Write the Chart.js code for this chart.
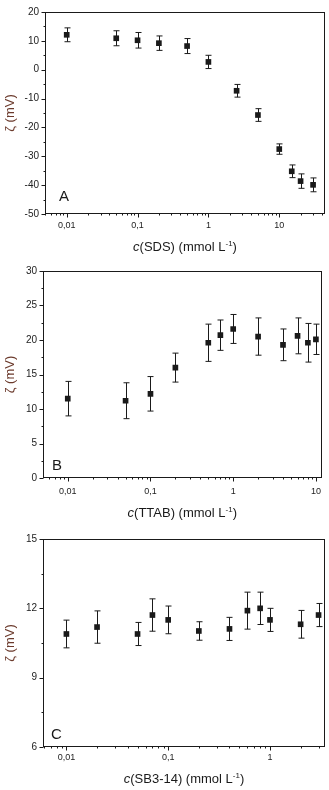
<!DOCTYPE html>
<html>
<head>
<meta charset="utf-8">
<script src="https://cdn.jsdelivr.net/npm/chart.js@4.4.1/dist/chart.umd.min.js"></script>
<style>
    body { margin: 0; background: #fff; width: 329px; height: 790px; position: relative; overflow: hidden; }
    .panel { position: absolute; left: 0; width: 329px; }
</style>
</head>
<body>
<div class="panel" style="top:0;height:256px"><canvas id="chartA"></canvas></div>
<div class="panel" style="top:258px;height:262px"><canvas id="chartB"></canvas></div>
<div class="panel" style="top:522px;height:268px"><canvas id="chartC"></canvas></div>
<script>
// panel A - SDS
const concA = [0.01, 0.05, 0.1, 0.2, 0.5, 1, 2.5, 5, 10, 15, 20, 30];
const zetaA = [12.1, 10.9, 10.2, 9.2, 8.2, 2.7, -7.3, -15.7, -27.5, -35.2, -38.6, -39.9];
const errA = [2.4, 2.6, 2.7, 2.5, 2.6, 2.3, 2.2, 2.2, 1.8, 2.2, 2.5, 2.4];
const yLabelsA = [-50, -40, -30, -20, -10, 0, 10, 20];

// panel B - TTAB
const concB = [0.01, 0.05, 0.1, 0.2, 0.5, 0.7, 1, 2, 4, 6, 8, 10];
const zetaB = [11.5, 11.2, 12.2, 16.0, 19.6, 20.7, 21.6, 20.5, 19.3, 20.6, 19.6, 20.1];
const errB = [2.5, 2.6, 2.5, 2.1, 2.7, 2.2, 2.1, 2.7, 2.3, 2.6, 2.8, 2.2];
const yLabelsB = [0, 5, 10, 15, 20, 25, 30];

// panel C - SB3-14
const concC = [0.01, 0.02, 0.05, 0.07, 0.1, 0.2, 0.4, 0.6, 0.8, 1, 2, 3];
const zetaC = [10.89, 11.19, 10.89, 11.71, 11.5, 11.02, 11.11, 11.9, 12.0, 11.5, 11.31, 11.71];
const errC = [0.6, 0.7, 0.5, 0.7, 0.6, 0.4, 0.5, 0.8, 0.7, 0.5, 0.6, 0.5];
const yLabelsC = [6, 9, 12, 15];

// x tick labels (decimal comma, as in the original)
const xTickValues = [0.01, 0.1, 1, 10];
const xTickLabels = ['0,01', '0,1', '1', '10'];

const INK = '#1a1a1a';

function near(a, b) { return Math.abs(a - b) < 1e-9 * Math.max(1, Math.abs(b)); }

// error bars, ticks, frame, panel letter and x title
const decorPlugin = {
    id: 'decor',
    beforeDatasetsDraw(chart) {
        const { ctx, scales: { x, y } } = chart;
        const d = chart.options.plugins.decor;
        ctx.save();
        ctx.strokeStyle = INK;
        ctx.lineWidth = 1;
        d.conc.forEach((c, i) => {
            const px = Math.round(x.getPixelForValue(c)) + 0.5;
            const top = y.getPixelForValue(d.zeta[i] + d.err[i]);
            const bot = y.getPixelForValue(d.zeta[i] - d.err[i]);
            ctx.beginPath();
            ctx.moveTo(px, top); ctx.lineTo(px, bot);
            ctx.moveTo(px - 3, top); ctx.lineTo(px + 3, top);
            ctx.moveTo(px - 3, bot); ctx.lineTo(px + 3, bot);
            ctx.stroke();
        });
        ctx.restore();
    },
    afterDraw(chart) {
        const { ctx, chartArea: a, scales: { x, y } } = chart;
        const d = chart.options.plugins.decor;
        ctx.save();
        ctx.strokeStyle = INK;
        ctx.lineWidth = 1;
        const L = Math.round(a.left) + 0.5, R = Math.round(a.right) - 0.5;
        const T = Math.round(a.top) + 0.5, B = Math.round(a.bottom) - 0.5;
        ctx.strokeRect(L, T, R - L, B - T);

        ctx.beginPath();
        x.ticks.forEach(t => {
            const px = Math.round(x.getPixelForValue(t.value)) + 0.5;
            ctx.moveTo(px, B); ctx.lineTo(px, B + (t.major ? 4 : 2));
        });
        y.ticks.forEach(t => {
            const py = Math.round(y.getPixelForValue(t.value)) + 0.5;
            const major = d.yLabels.some(v => near(v, t.value));
            ctx.moveTo(L, py); ctx.lineTo(L - (major ? 4 : 2), py);
        });
        ctx.stroke();

        // panel letter
        ctx.fillStyle = INK;
        ctx.font = '15px "Liberation Sans", Arial, sans-serif';
        ctx.textBaseline = 'alphabetic';
        ctx.textAlign = 'left';
        ctx.fillText(d.letter, a.left + d.letterDx, a.bottom - d.letterDy);

        // x title: italic c, superscript -1
        const parts = [
            { t: 'c', f: 'italic 13px "Liberation Sans", Arial, sans-serif', dy: 0 },
            { t: '(' + d.name + ') (mmol L', f: '13px "Liberation Sans", Arial, sans-serif', dy: 0 },
            { t: '-1', f: '8px "Liberation Sans", Arial, sans-serif', dy: -5 },
            { t: ')', f: '13px "Liberation Sans", Arial, sans-serif', dy: 0 }
        ];
        let w = 0;
        parts.forEach(p => { ctx.font = p.f; p.w = ctx.measureText(p.t).width; w += p.w; });
        let cx = (a.left + a.right) / 2 - w / 2;
        const base = a.bottom + d.titleDy + 4.5;
        parts.forEach(p => {
            ctx.font = p.f;
            ctx.fillText(p.t, cx, base + p.dy);
            cx += p.w;
        });
        ctx.restore();
    }
};

function logTicks(scale) {
    const ticks = [];
    for (let e = Math.floor(Math.log10(scale.min)); Math.pow(10, e) <= scale.max; e++) {
        for (let m = 1; m <= 9; m++) {
            const v = +(m * Math.pow(10, e)).toPrecision(8);
            if (v >= scale.min && v <= scale.max) ticks.push({ value: v, major: m === 1 });
        }
    }
    scale.ticks = ticks;
}

function makeChart(id, conc, zeta, err, o) {
    new Chart(document.getElementById(id), {
        type: 'scatter',
        data: {
            datasets: [{
                data: conc.map((c, i) => ({ x: c, y: zeta[i] })),
                backgroundColor: INK,
                borderColor: INK,
                borderWidth: 0,
                pointStyle: 'rect',
                pointRadius: 4,
                pointHoverRadius: 4
            }]
        },
        options: {
            responsive: true,
            maintainAspectRatio: false,
            animation: false,
            events: [],
            layout: { padding: { top: o.padTop, right: 4, left: 0, bottom: 0 } },
            plugins: {
                legend: { display: false },
                tooltip: { enabled: false },
                decor: { conc, zeta, err, yLabels: o.yLabels, letter: o.letter, name: o.name,
                         letterDx: o.letterDx, letterDy: o.letterDy, titleDy: o.titleDy }
            },
            scales: {
                x: {
                    type: 'logarithmic',
                    min: o.xMin, max: o.xMax,
                    bounds: 'data',
                    grid: { display: false, drawTicks: false },
                    border: { display: false },
                    afterBuildTicks: logTicks,
                    afterFit(s) { s.height = o.xHeight; },
                    ticks: {
                        autoSkip: false, maxRotation: 0, minRotation: 0,
                        padding: o.xPad,
                        color: '#222',
                        font: { family: '"Liberation Sans", Arial, sans-serif', size: 9 },
                        callback(v) {
                            const k = xTickValues.findIndex(t => near(t, v));
                            return k >= 0 ? xTickLabels[k] : '';
                        }
                    }
                },
                y: {
                    min: o.yMin, max: o.yMax,
                    grid: { display: false, drawTicks: false },
                    border: { display: false },
                    afterBuildTicks(s) {
                        const t = [];
                        for (let i = 0; o.yMin + i * o.yStep <= o.yMax + 1e-9; i++) t.push({ value: o.yMin + i * o.yStep });
                        s.ticks = t;
                    },
                    afterFit(s) { s.width = o.yWidth; },
                    title: {
                        display: true, text: 'ζ (mV)', color: '#6b3a2c',
                        font: { family: '"Liberation Sans", Arial, sans-serif', size: 13 },
                        padding: { top: 3, bottom: 0 }
                    },
                    ticks: {
                        autoSkip: false,
                        padding: 6,
                        color: '#222',
                        font: { family: '"Liberation Sans", Arial, sans-serif', size: 10 },
                        callback(v) { return o.yLabels.some(l => near(l, v)) ? String(v) : ''; }
                    }
                }
            }
        },
        plugins: [decorPlugin]
    });
}

makeChart('chartA', concA, zetaA, errA, {
    name: 'SDS', letter: 'A', xMin: 0.00494, xMax: 44.2, yMin: -50, yMax: 20, yStep: 5, yLabels: yLabelsA,
    padTop: 6, yWidth: 45, xHeight: 42, xPad: 6, titleDy: 32.5, letterDx: 14, letterDy: 13.5
});
makeChart('chartB', concB, zetaB, errB, {
    name: 'TTAB', letter: 'B', xMin: 0.00502, xMax: 11.7, yMin: 0, yMax: 30, yStep: 2.5, yLabels: yLabelsB,
    padTop: 13, yWidth: 43, xHeight: 42, xPad: 8, titleDy: 34, letterDx: 9, letterDy: 8.5
});
makeChart('chartC', concC, zetaC, errC, {
    name: 'SB3-14', letter: 'C', xMin: 0.00589, xMax: 3.47, yMin: 6, yMax: 15, yStep: 1.5, yLabels: yLabelsC,
    padTop: 17, yWidth: 43, xHeight: 43, xPad: 5, titleDy: 31, letterDx: 8, letterDy: 8.5
});
</script>
</body>
</html>
